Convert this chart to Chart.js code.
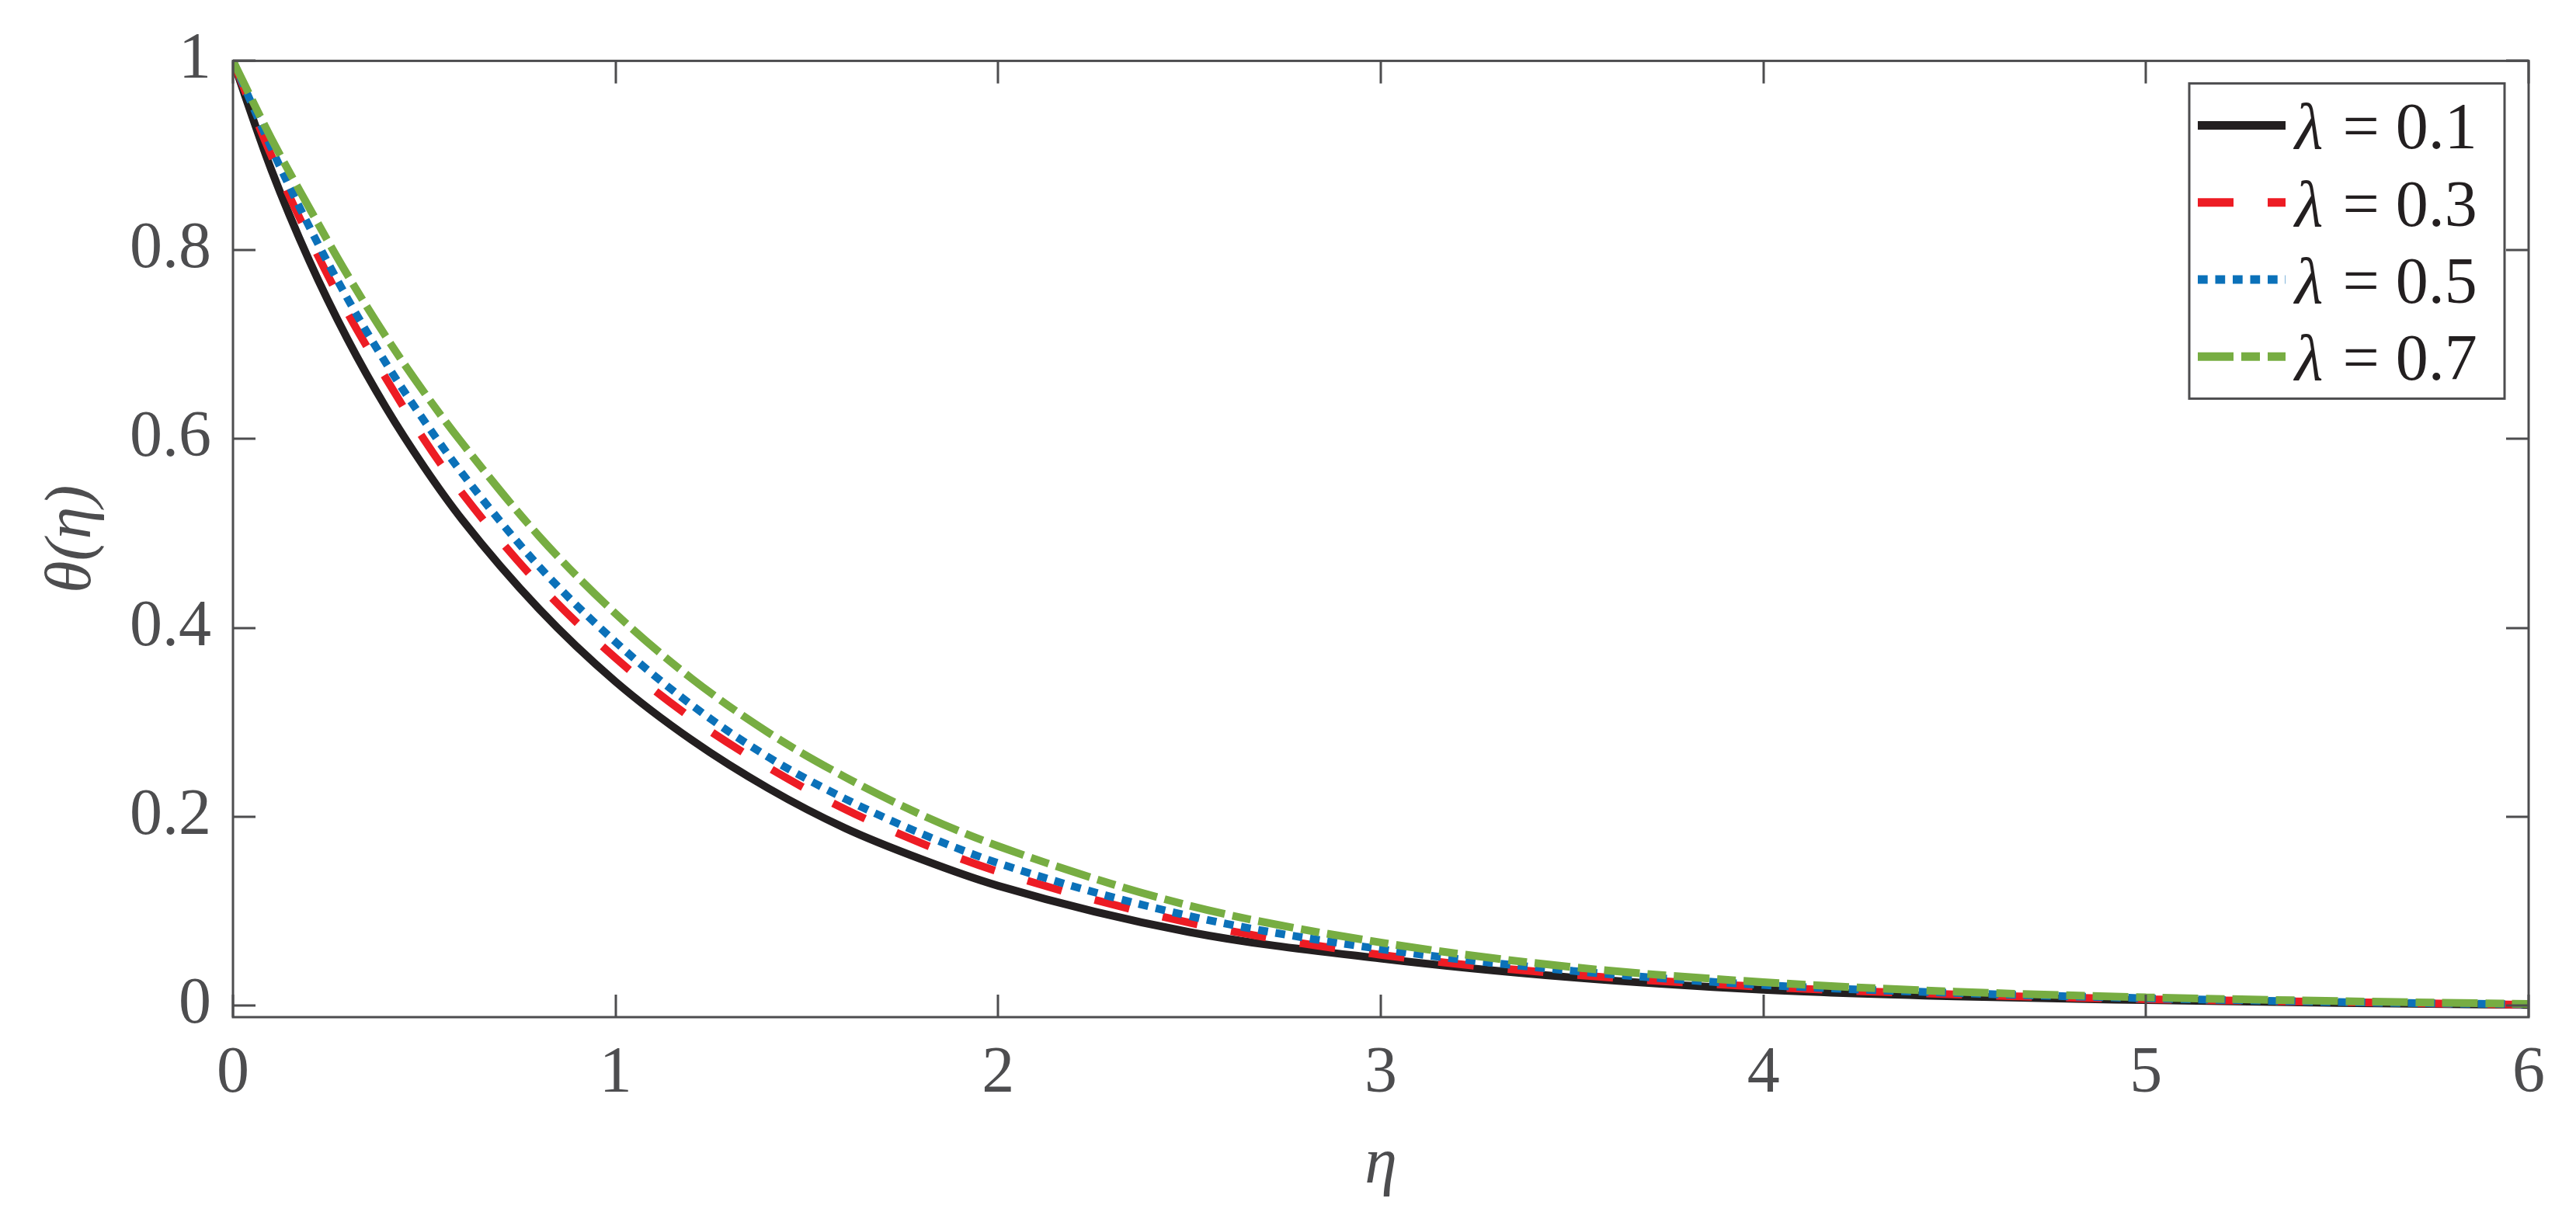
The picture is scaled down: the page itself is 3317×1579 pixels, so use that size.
<!DOCTYPE html>
<html>
<head>
<meta charset="utf-8">
<script src="https://cdn.jsdelivr.net/npm/chart.js@4.4.1/dist/chart.umd.min.js"></script>
<style>
  html, body { margin: 0; padding: 0; background: #fff; }
  #wrap { width: 3317px; height: 1579px; position: relative; }
</style>
</head>
<body>
<div id="wrap"><canvas id="thetaChart"></canvas></div>
<script>
// temperature profiles theta(eta) for several lambda

const eta = [0, 0.1, 0.2, 0.3, 0.4, 0.5, 0.6, 0.8, 1.0, 1.2, 1.4, 1.6, 1.8, 2.0, 2.5, 3.0, 3.5, 4.0, 4.5, 5.0, 5.5, 6.0];

const theta01 = [1, 0.885, 0.788, 0.705, 0.633, 0.570, 0.514, 0.420, 0.343, 0.281, 0.230, 0.188, 0.155, 0.127, 0.078, 0.050, 0.030, 0.017, 0.010, 0.006, 0.003, 0.001];
const theta03 = [1, 0.900, 0.812, 0.733, 0.664, 0.599, 0.542, 0.446, 0.368, 0.304, 0.252, 0.208, 0.172, 0.142, 0.088, 0.054, 0.033, 0.020, 0.012, 0.007, 0.004, 0.001];
const theta05 = [1, 0.908, 0.824, 0.748, 0.680, 0.619, 0.563, 0.465, 0.385, 0.318, 0.263, 0.219, 0.182, 0.151, 0.095, 0.060, 0.037, 0.022, 0.0136, 0.008, 0.004, 0.0015];
const theta07 = [1, 0.918, 0.844, 0.773, 0.708, 0.649, 0.595, 0.497, 0.415, 0.346, 0.289, 0.242, 0.202, 0.169, 0.106, 0.067, 0.041, 0.025, 0.015, 0.009, 0.005, 0.002];

const seriesLabels = ['0.1', '0.3', '0.5', '0.7'];
const xTicks = [0, 1, 2, 3, 4, 5, 6];
const yTicks = [0, 0.2, 0.4, 0.6, 0.8, 1];

const COLORS = {
  black: '#231f20',
  red: '#ed1c24',
  blue: '#0b71b9',
  green: '#77ad42',
  axis: '#4d4d4f'
};
const FONT = '"Liberation Serif", "Times New Roman", serif';

const toPoints = ys => eta.map((x, i) => ({ x: x, y: ys[i] }));

// box frame + inward ticks on all four sides (MATLAB "box on" look)
const frameTicks = {
  id: 'frameTicks',
  afterDraw(chart) {
    const { ctx, chartArea: a, scales } = chart;
    const len = 29;
    ctx.save();
    ctx.strokeStyle = COLORS.axis;
    ctx.lineWidth = 3;
    ctx.setLineDash([]);
    ctx.strokeRect(a.left, a.top, a.right - a.left, a.bottom - a.top);
    ctx.beginPath();
    xTicks.forEach(v => {
      const px = Math.round(scales.x.getPixelForValue(v));
      ctx.moveTo(px, a.bottom); ctx.lineTo(px, a.bottom - len);
      ctx.moveTo(px, a.top); ctx.lineTo(px, a.top + len);
    });
    yTicks.forEach(v => {
      const py = Math.round(scales.y.getPixelForValue(v));
      ctx.moveTo(a.left, py); ctx.lineTo(a.left + len, py);
      ctx.moveTo(a.right, py); ctx.lineTo(a.right - len, py);
    });
    ctx.stroke();
    ctx.restore();
  }
};

// boxed legend in the upper right corner, italic lambda
const boxLegend = {
  id: 'boxLegend',
  afterDraw(chart) {
    const { ctx, chartArea: a } = chart;
    const w = 406, h = 406;
    const left = a.right - 31 - w;
    const top = a.top + 29;
    ctx.save();
    ctx.fillStyle = '#fff';
    ctx.fillRect(left, top, w, h);
    ctx.strokeStyle = COLORS.axis;
    ctx.lineWidth = 3;
    ctx.strokeRect(left, top, w, h);

    chart.data.datasets.forEach((ds, i) => {
      const y = top + 54 + i * 99.3;
      ctx.beginPath();
      ctx.setLineDash(ds.borderDash || []);
      ctx.lineCap = 'butt';
      ctx.strokeStyle = ds.borderColor;
      ctx.lineWidth = 11;
      ctx.moveTo(left + 11, y);
      ctx.lineTo(left + 124, y);
      ctx.stroke();
      ctx.setLineDash([]);

      ctx.fillStyle = COLORS.black;
      ctx.textBaseline = 'alphabetic';
      ctx.textAlign = 'left';
      ctx.font = 'italic 84px ' + FONT;
      const tx = left + 136;
      ctx.fillText('λ', tx, y + 30);
      const lw = ctx.measureText('λ').width;
      ctx.font = '84px ' + FONT;
      ctx.fillText(' = ' + seriesLabels[i], tx + lw + 4, y + 30);
    });
    ctx.restore();
  }
};

const makeSet = (label, ys, color, dash, order) => ({
  label: 'λ = ' + label,
  data: toPoints(ys),
  borderColor: color,
  backgroundColor: color,
  borderWidth: 10,
  borderDash: dash,
  pointRadius: 0,
  fill: false,
  cubicInterpolationMode: 'monotone',
  order: order
});

new Chart(document.getElementById('thetaChart'), {
  type: 'line',
  data: {
    datasets: [
      makeSet(seriesLabels[0], theta01, COLORS.black, [], 3),
      makeSet(seriesLabels[1], theta03, COLORS.red, [46, 44], 2),
      makeSet(seriesLabels[2], theta05, COLORS.blue, [12.7, 9.8], 1),
      makeSet(seriesLabels[3], theta07, COLORS.green, [46, 10, 24, 10], 0)
    ]
  },
  options: {
    responsive: true,
    maintainAspectRatio: false,
    animation: false,
    layout: { padding: { left: 0, top: 65, right: 61, bottom: 0 } },
    plugins: {
      legend: { display: false },
      tooltip: { enabled: false }
    },
    scales: {
      x: {
        type: 'linear',
        min: 0,
        max: 6,
        afterBuildTicks: s => { s.ticks = xTicks.map(v => ({ value: v })); },
        afterFit: s => { s.height = 269; },
        grid: { display: false, drawTicks: false },
        border: { display: false },
        ticks: {
          padding: 24,
          color: COLORS.axis,
          font: { family: FONT, size: 84 },
          maxRotation: 0,
          callback: v => String(v)
        },
        title: {
          display: true,
          text: 'η',
          color: COLORS.axis,
          font: { family: FONT, size: 84, style: 'italic', lineHeight: 1.77 }
        }
      },
      y: {
        type: 'linear',
        min: -0.012,
        max: 1,
        afterBuildTicks: s => { s.ticks = yTicks.map(v => ({ value: v })); },
        afterFit: s => { s.width = 300; },
        grid: { display: false, drawTicks: false },
        border: { display: false },
        ticks: {
          padding: 28,
          color: COLORS.axis,
          font: { family: FONT, size: 84 },
          callback: v => String(Math.round(v * 10) / 10)
        },
        title: {
          display: true,
          text: 'θ(η)',
          color: COLORS.axis,
          font: { family: FONT, size: 84, style: 'italic', lineHeight: 2.14 }
        }
      }
    }
  },
  plugins: [frameTicks, boxLegend]
});
</script>
</body>
</html>
